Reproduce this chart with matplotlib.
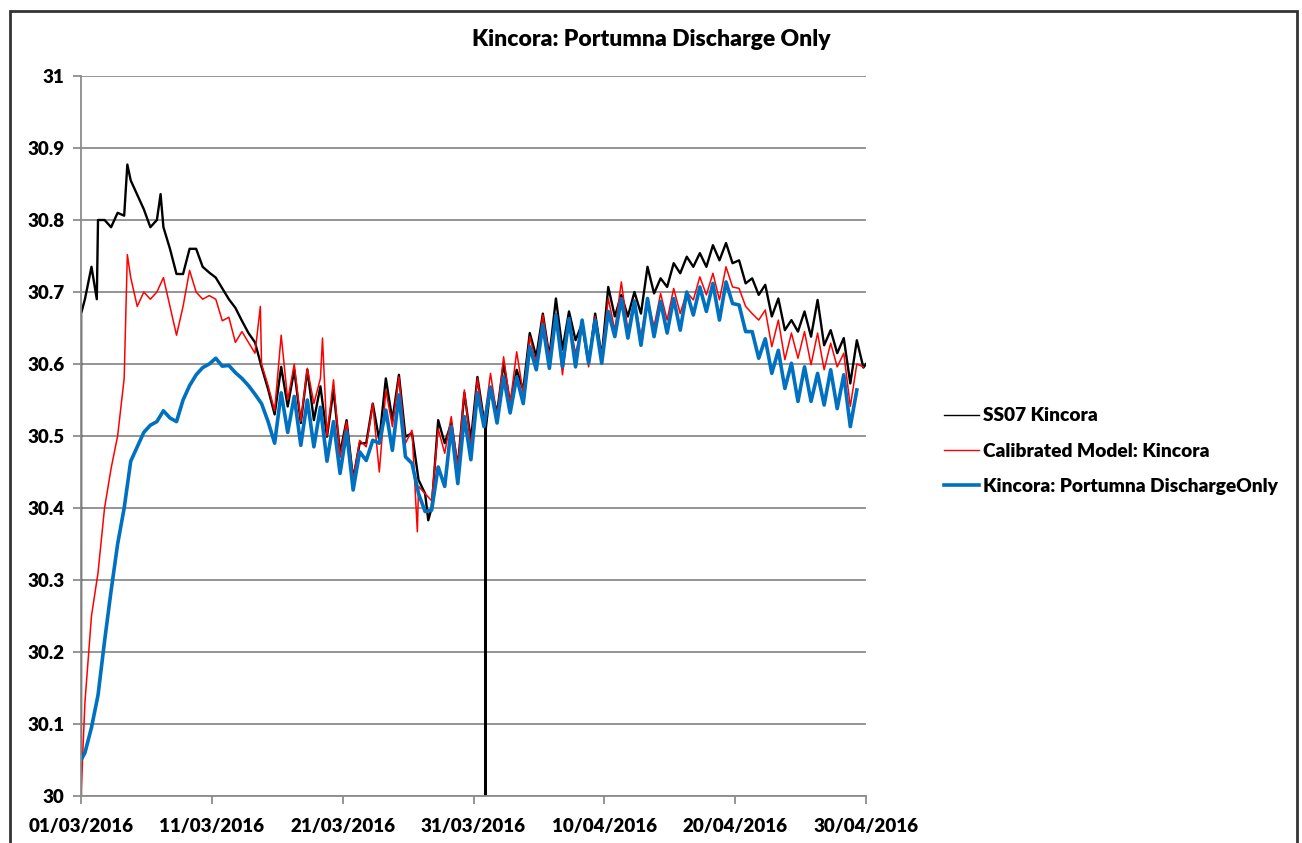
import numpy as np
import pandas as pd
import matplotlib
matplotlib.use("Agg")
import matplotlib.pyplot as plt
import matplotlib.dates as mdates
from matplotlib.patches import Rectangle

plt.rcParams['font.family'] = ['Lato', 'DejaVu Sans']
plt.rcParams['font.weight'] = 'bold'

title = "Kincora: Portumna Discharge Only"
labels = ["SS07 Kincora", "Calibrated Model: Kincora", "Kincora: Portumna DischargeOnly"]

# sample times: start of record, then every 12 h from 07:12 on day 1
start = pd.Timestamp("2016-03-01 00:00")
times = pd.date_range("2016-03-01 07:12", periods=120, freq="12h").insert(0, start)

black = [30.0,
         30.69, 30.735, 30.80, 30.80, 30.79, 30.81, 30.806, 30.855, 30.835, 30.815,
         30.79, 30.80, 30.79, 30.76, 30.725, 30.725, 30.76, 30.76, 30.735, 30.727,
         30.72, 30.705, 30.69, 30.678, 30.66, 30.643, 30.63, 30.596, 30.565, 30.53,
         30.596, 30.541, 30.592, 30.518, 30.592, 30.522, 30.569, 30.499, 30.564, 30.476,
         30.522, 30.44, 30.49, 30.49, 30.545, 30.494, 30.58, 30.522, 30.585, 30.499,
         30.504, 30.439, 30.42, 30.40, 30.522, 30.49, 30.518, 30.457, 30.56, 30.494,
         30.582, 30.522, 30.568, 30.532, 30.601, 30.545, 30.592, 30.564, 30.643, 30.61,
         30.67, 30.61, 30.691, 30.62, 30.673, 30.633, 30.656, 30.601, 30.67, 30.61,
         30.707, 30.666, 30.696, 30.666, 30.70, 30.67, 30.735, 30.698, 30.719, 30.707,
         30.74, 30.726, 30.749, 30.735, 30.754, 30.735, 30.765, 30.744, 30.768, 30.74,
         30.744, 30.712, 30.719, 30.696, 30.71, 30.666, 30.691, 30.647, 30.661, 30.645,
         30.673, 30.638, 30.689, 30.626, 30.647, 30.615, 30.636, 30.573, 30.633, 30.595]

red = [30.0,
       30.13, 30.25, 30.31, 30.40, 30.455, 30.50, 30.58, 30.72, 30.68, 30.70,
       30.69, 30.70, 30.72, 30.68, 30.64, 30.68, 30.73, 30.70, 30.69, 30.695,
       30.69, 30.66, 30.665, 30.63, 30.645, 30.63, 30.615, 30.60, 30.57, 30.535,
       30.64, 30.55, 30.60, 30.52, 30.594, 30.545, 30.58, 30.50, 30.578, 30.47,
       30.52, 30.44, 30.494, 30.485, 30.545, 30.45, 30.564, 30.513, 30.582, 30.49,
       30.508, 30.43, 30.42, 30.41, 30.51, 30.476, 30.527, 30.457, 30.564, 30.485,
       30.58, 30.518, 30.587, 30.527, 30.61, 30.545, 30.617, 30.559, 30.638, 30.601,
       30.668, 30.61, 30.67, 30.585, 30.661, 30.615, 30.652, 30.596, 30.666, 30.61,
       30.691, 30.647, 30.714, 30.647, 30.689, 30.638, 30.689, 30.652, 30.698, 30.661,
       30.705, 30.67, 30.70, 30.689, 30.721, 30.696, 30.726, 30.689, 30.735, 30.707,
       30.705, 30.68, 30.67, 30.661, 30.675, 30.624, 30.661, 30.606, 30.643, 30.608,
       30.645, 30.599, 30.643, 30.592, 30.629, 30.596, 30.615, 30.541, 30.60, 30.596]

blue = [30.05,
        30.06, 30.095, 30.14, 30.215, 30.285, 30.35, 30.40, 30.465, 30.485, 30.505,
        30.515, 30.52, 30.535, 30.525, 30.52, 30.55, 30.57, 30.585, 30.595, 30.60,
        30.608, 30.597, 30.598, 30.588, 30.58, 30.57, 30.558, 30.545, 30.52, 30.49,
        30.56, 30.505, 30.555, 30.487, 30.55, 30.485, 30.54, 30.465, 30.52, 30.448,
        30.506, 30.425, 30.478, 30.466, 30.494, 30.49, 30.536, 30.48, 30.557, 30.471,
        30.462, 30.42, 30.395, 30.397, 30.457, 30.43, 30.513, 30.434, 30.527, 30.467,
        30.56, 30.513, 30.568, 30.518, 30.582, 30.532, 30.582, 30.545, 30.624, 30.592,
        30.654, 30.594, 30.668, 30.596, 30.663, 30.596, 30.661, 30.601, 30.661, 30.601,
        30.673, 30.638, 30.691, 30.636, 30.687, 30.626, 30.691, 30.638, 30.687, 30.643,
        30.691, 30.647, 30.70, 30.668, 30.707, 30.673, 30.712, 30.661, 30.714, 30.684,
        30.682, 30.645, 30.645, 30.608, 30.635, 30.587, 30.619, 30.566, 30.601, 30.548,
        30.596, 30.548, 30.587, 30.543, 30.592, 30.538, 30.585, 30.513, 30.564, np.nan]

# spikes / logger dropouts
black_extra_t = ["2016-03-01 00:10", "2016-03-02 05:00", "2016-03-04 13:00", "2016-03-07 02:00",
                 "2016-03-27 13:00", "2016-03-31 22:10", "2016-03-31 22:20", "2016-03-31 22:30",
                 "2016-04-30 00:00"]
black_extra_v = [30.67, 30.69, 30.877, 30.836, 30.383, 30.51, 30.0, 30.51, 30.60]
red_extra_t = ["2016-03-04 13:00", "2016-03-14 17:00", "2016-03-19 11:00", "2016-03-26 17:00"]
red_extra_v = [30.752, 30.68, 30.636, 30.367]


def with_extras(vals, et, ev):
    s = pd.Series(vals, index=times)
    e = pd.Series(ev, index=pd.to_datetime(et))
    return pd.concat([s, e]).sort_index()


s_black = with_extras(black, black_extra_t, black_extra_v)
s_red = with_extras(red, red_extra_t, red_extra_v)
s_blue = pd.Series(blue, index=times)

fig = plt.figure(figsize=(13.02, 8.43), dpi=100)
ax = fig.add_axes([81 / 1302, 47 / 843, 785 / 1302, 720 / 843])

ax.plot(s_black.index, s_black.values, color="black", lw=1.7, label=labels[0])
ax.plot(s_red.index, s_red.values, color="#ff0000", lw=1.1, label=labels[1])
ax.plot(s_blue.index, s_blue.values, color="#0070c0", lw=2.6, label=labels[2])

ax.set_xlim(pd.Timestamp("2016-03-01"), pd.Timestamp("2016-04-30"))
ax.set_ylim(30, 31)
ax.set_yticks(np.arange(30, 31.01, 0.1))
ax.set_yticklabels(["30", "30.1", "30.2", "30.3", "30.4", "30.5", "30.6", "30.7", "30.8", "30.9", "31"])
ax.set_xticks(pd.date_range("2016-03-01", periods=7, freq="10D"))
ax.xaxis.set_major_formatter(mdates.DateFormatter("%d/%m/%Y"))

ax.grid(axis="y", color="#8c8c8c", lw=1.3)
ax.set_axisbelow(True)
for side in ["top", "right"]:
    ax.spines[side].set_visible(False)
for side in ["left", "bottom"]:
    ax.spines[side].set_color("#8c8c8c")
    ax.spines[side].set_linewidth(1.3)
ax.tick_params(axis="both", colors="#8c8c8c", labelcolor="black", labelsize=13.5, length=6, width=1.3)
ax.tick_params(axis="x", pad=10)
ax.tick_params(axis="y", pad=6)
for t in ax.get_xticklabels() + ax.get_yticklabels():
    t.set_fontweight("heavy")

fig.text(0.5, 1 - 40 / 843, title, ha="center", va="center", fontsize=16.5, fontweight="heavy")

leg = fig.legend(loc="center left", bbox_to_anchor=(944 / 1302, 1 - 451 / 843), frameon=False,
                 prop={"size": 13.8, "weight": "heavy"}, handlelength=1.85, handletextpad=0.2,
                 labelspacing=0.95, borderpad=0, borderaxespad=0)
leg.get_lines()[0].set_linewidth(1.0)
leg.get_lines()[1].set_linewidth(1.0)

fig.patches.append(Rectangle((10 / 1302, -0.05), 1287 / 1302, 1.05 - 11 / 843, transform=fig.transFigure,
                             fill=False, edgecolor="#333333", lw=2))

fig.savefig("out.png", dpi=100)
